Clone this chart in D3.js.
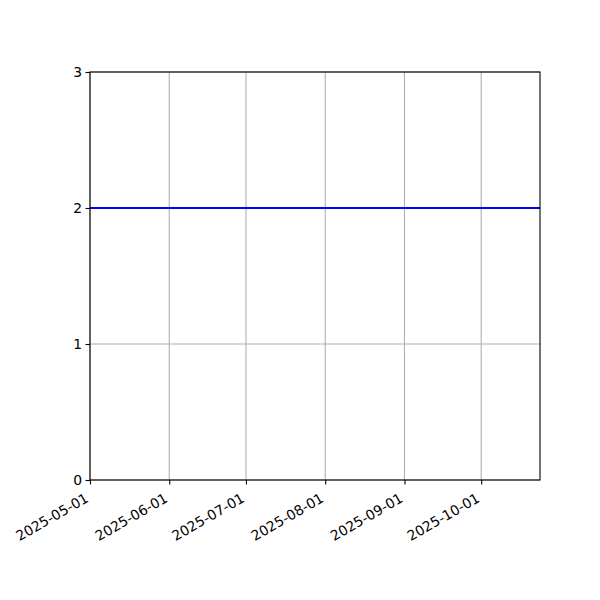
<!DOCTYPE html>
<html>
<head>
<meta charset="utf-8">
<script src="https://cdn.jsdelivr.net/npm/d3@7"></script>
<style>
  body { margin: 0; background: #fff; }
  svg { font-family: "DejaVu Sans", sans-serif; }
</style>
</head>
<body>
<svg id="chart" width="600" height="600"></svg>
<script>
// data
const dates = ["2025-05-01", "2025-10-24"];
const values = [2, 2];
const xTicks = ["2025-05-01", "2025-06-01", "2025-07-01", "2025-08-01", "2025-09-01", "2025-10-01"];
const yTicks = [0, 1, 2, 3];

const margin = { top: 72, right: 60, bottom: 120, left: 90 },
      width = 600 - margin.left - margin.right,
      height = 600 - margin.top - margin.bottom;

const parse = d3.utcParse("%Y-%m-%d");
const fmt = d3.utcFormat("%Y-%m-%d");

const svg = d3.select("#chart")
  .append("g")
  .attr("transform", `translate(${margin.left},${margin.top})`);

const x = d3.scaleUtc()
  .domain([parse(dates[0]), parse(dates[dates.length - 1])])
  .range([0, width]);
const y = d3.scaleLinear().domain([0, 3]).range([height, 0]);

// grid
svg.append("g")
  .selectAll("line.vg")
  .data(xTicks.map(parse))
  .join("line")
  .attr("x1", d => x(d)).attr("x2", d => x(d))
  .attr("y1", 0).attr("y2", height)
  .attr("stroke", "#b0b0b0").attr("stroke-width", 1.1);

svg.append("g")
  .selectAll("line.hg")
  .data(yTicks)
  .join("line")
  .attr("x1", 0).attr("x2", width)
  .attr("y1", d => y(d)).attr("y2", d => y(d))
  .attr("stroke", "#b0b0b0").attr("stroke-width", 1.1);

// line
const points = dates.map((d, i) => ({ date: parse(d), value: values[i] }));
svg.append("path")
  .datum(points)
  .attr("fill", "none")
  .attr("stroke", "blue")
  .attr("stroke-width", 2.1)
  .attr("d", d3.line().x(d => x(d.date)).y(d => y(d.value)));

// frame
svg.append("rect")
  .attr("width", width).attr("height", height)
  .attr("fill", "none").attr("stroke", "black").attr("stroke-width", 1.1);

// x axis
const xAxis = svg.append("g")
  .attr("transform", `translate(0,${height})`)
  .call(d3.axisBottom(x).tickValues(xTicks.map(parse)).tickFormat(fmt).tickSize(4.5).tickSizeOuter(0));
xAxis.select(".domain").remove();
xAxis.selectAll(".tick line").attr("stroke", "black").attr("stroke-width", 1.1);
xAxis.selectAll(".tick text")
  .attr("font-size", "13.9px")
  .attr("font-family", "DejaVu Sans")
  .attr("fill", "black")
  .attr("text-anchor", "end")
  .attr("dy", null)
  .attr("y", null)
  .attr("transform", "translate(-1,21) rotate(-30)");

// y axis
const yAxis = svg.append("g")
  .call(d3.axisLeft(y).tickValues(yTicks).tickFormat(d3.format("d")).tickSize(4.5).tickSizeOuter(0).tickPadding(3.5));
yAxis.select(".domain").remove();
yAxis.selectAll(".tick line").attr("stroke", "black").attr("stroke-width", 1.1);
yAxis.selectAll(".tick text")
  .attr("font-size", "13.9px")
  .attr("font-family", "DejaVu Sans")
  .attr("fill", "black");
</script>
</body>
</html>
